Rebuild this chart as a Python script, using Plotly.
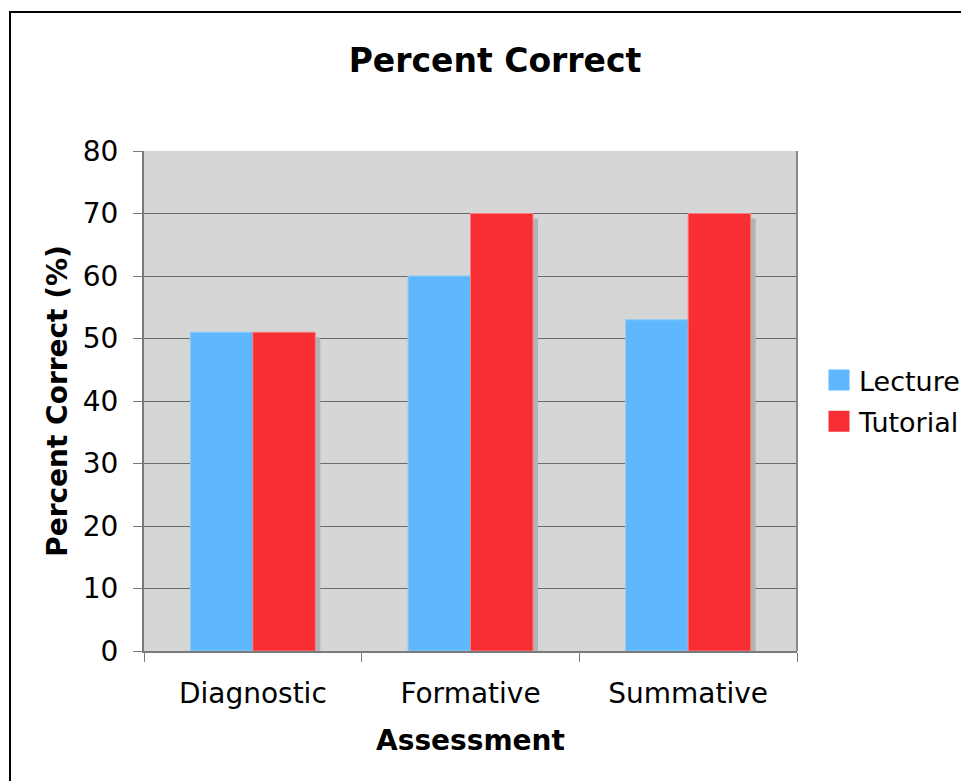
import plotly.graph_objects as go

assessments = ["Diagnostic", "Formative", "Summative"]
lecture = [51, 60, 53]
tutorial = [51, 70, 70]
y_ticks = [0, 10, 20, 30, 40, 50, 60, 70, 80]

FONT = "DejaVu Sans"
BLUE, RED = "#5fb8fd", "#f72f35"
BAR_W = 0.287          # bar width in category units
SH_DX = 0.023          # shadow shift right (category units)
SH_DY = 0.8            # shadow shift down (data units)
SHADOW = "#b3b3b3"

# page has 8px body margin, so the figure is a bit smaller than the window
W, H = 961, 773
L, R, T, B = 136, 172, 143, 130
PW, PH = W - L - R, H - T - B

fig = go.Figure()

# drop shadows first so bars sit on top
for vals, off in [(lecture, -BAR_W), (tutorial, 0)]:
    fig.add_trace(go.Bar(x=assessments, y=[v - SH_DY for v in vals],
                         offset=off + SH_DX, width=BAR_W,
                         marker=dict(color=SHADOW, line=dict(width=0)),
                         showlegend=False, hoverinfo="skip"))

fig.add_trace(go.Bar(x=assessments, y=lecture, name="Lecture", showlegend=False,
                     offset=-BAR_W, width=BAR_W,
                     marker=dict(color=BLUE, line=dict(color="#8ccbfb", width=1))))
fig.add_trace(go.Bar(x=assessments, y=tutorial, name="Tutorial", showlegend=False,
                     offset=0, width=BAR_W,
                     marker=dict(color=RED, line=dict(color="#f77d80", width=1))))

# legend-only entries with bigger square swatches
for name, col in [("Lecture", BLUE), ("Tutorial", RED)]:
    fig.add_trace(go.Scatter(x=[None], y=[None], mode="markers", name=name,
                             legendgroup=name,
                             marker=dict(symbol="square", size=16, color=col,
                                         line=dict(color=col, width=5))))

fig.update_layout(
    width=W, height=H,
    margin=dict(l=L, r=R, t=T, b=B, autoexpand=False),
    paper_bgcolor="white", plot_bgcolor="#d6d6d6",
    barmode="overlay",
    font=dict(family=FONT, size=28, color="black"),
    title=dict(text="<b>Percent Correct</b>", x=(495 - 8) / W, xanchor="center",
               y=1 - 52 / H, yanchor="middle", font=dict(size=33)),
    legend=dict(x=(811 - 136) / PW, xanchor="left", y=0.5, yanchor="middle",
                font=dict(size=27), bgcolor="rgba(0,0,0,0)",
                traceorder="grouped", tracegroupgap=3),
)

fig.update_yaxes(range=[0, 80], tickvals=y_ticks, showgrid=True,
                 gridcolor="#6a6a6a", gridwidth=1,
                 showline=True, linecolor="#7a7a7a", linewidth=2,
                 ticks="outside", ticklen=9, tickcolor="#7a7a7a",
                 ticklabelstandoff=9, zeroline=False,
                 title=dict(text="<b>Percent Correct (%)</b>", standoff=7,
                            font=dict(size=28)))
fig.update_xaxes(showline=True, linecolor="#7a7a7a", linewidth=2,
                 ticks="outside", ticklen=9, tickcolor="#7a7a7a",
                 tickson="boundaries", showgrid=False, ticklabelstandoff=16,
                 title=dict(text="<b>Assessment</b>", standoff=22,
                            font=dict(size=28)))

# right edge of plot area
fig.add_shape(type="line", xref="paper", yref="paper", x0=1, x1=1, y0=0, y1=1,
              line=dict(color="#8a8a8a", width=2))
# outer frame of the chart
fig.add_shape(type="rect", xref="paper", yref="paper",
              x0=(2 - L) / PW, x1=(W + 30 - L) / PW,
              y0=-(B + 30) / PH, y1=(H - B - 4) / PH,
              line=dict(color="black", width=2))

fig.write_html("out.html")
